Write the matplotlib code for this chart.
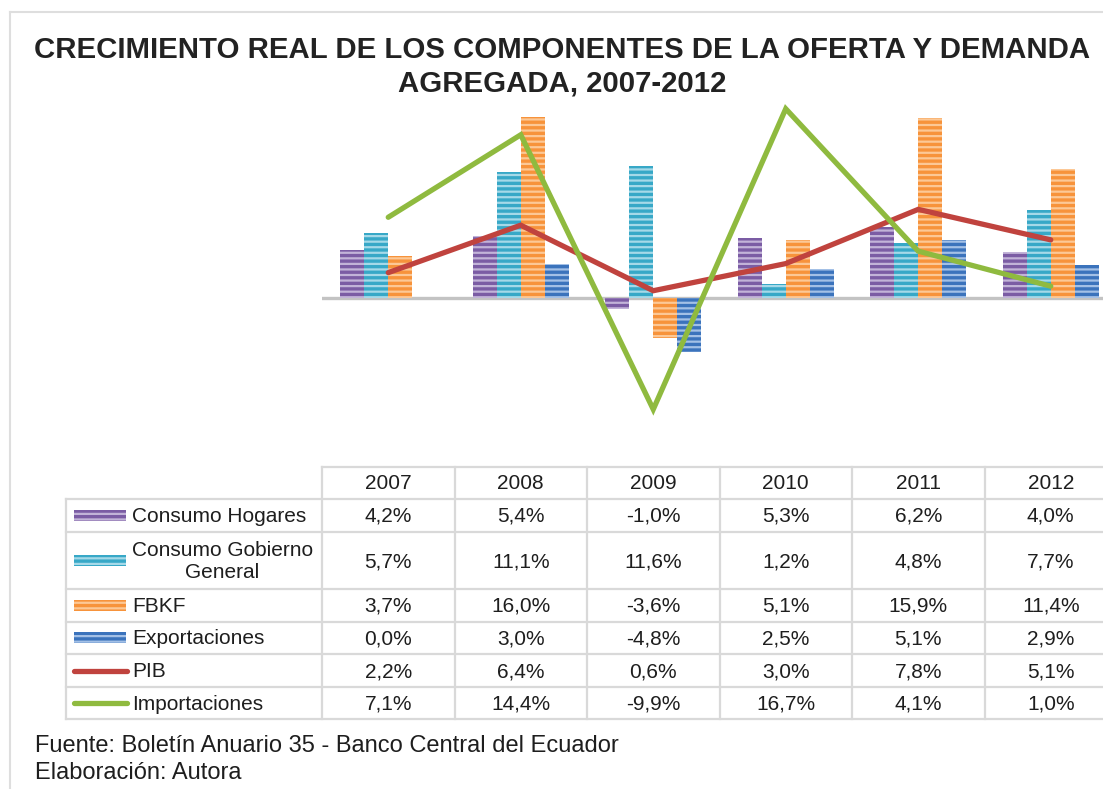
import numpy as np
import matplotlib
matplotlib.use("Agg")
import matplotlib.pyplot as plt
from matplotlib.patches import Rectangle

plt.rcParams['font.family'] = ['Liberation Sans', 'DejaVu Sans']
plt.rcParams['hatch.linewidth'] = 1.6

# data (% real growth)
years = ['2007', '2008', '2009', '2010', '2011', '2012']
consumo_hogares = [4.2, 5.4, -1.0, 5.3, 6.2, 4.0]
consumo_gobierno = [5.7, 11.1, 11.6, 1.2, 4.8, 7.7]
fbkf = [3.7, 16.0, -3.6, 5.1, 15.9, 11.4]
exportaciones = [0.0, 3.0, -4.8, 2.5, 5.1, 2.9]
pib = [2.2, 6.4, 0.6, 3.0, 7.8, 5.1]
importaciones = [7.1, 14.4, -9.9, 16.7, 4.1, 1.0]

bar_names = ['Consumo Hogares', 'Consumo Gobierno\nGeneral', 'FBKF', 'Exportaciones']
bar_series = [consumo_hogares, consumo_gobierno, fbkf, exportaciones]
bar_colors = ['#7b5ca4', '#37a8c7', '#f7933b', '#3b73bc']
stripe_colors = ['#c2b3d8', '#a5d9e8', '#fcc896', '#a3c0e6']
line_names = ['PIB', 'Importaciones']
line_series = [pib, importaciones]
line_colors = ['#c0433e', '#8fba3f']

W, H = 1103, 789
fig = plt.figure(figsize=(W / 100, H / 100), dpi=100)

# overlay in pixel coordinates for frame, title, table
ov = fig.add_axes([0, 0, 1, 1], zorder=0)
ov.set_xlim(0, W)
ov.set_ylim(H, 0)
ov.axis('off')

grid_c = '#d9d9d9'
ov.plot([10, W], [12, 12], color='#dedede', lw=1.5)
ov.plot([10, 10], [12, H], color='#dedede', lw=1.5)

ov.text(562, 50, 'CRECIMIENTO REAL DE LOS COMPONENTES DE LA OFERTA Y DEMANDA',
        ha='center', va='center', fontsize=21.2, fontweight='bold', color='#222222')
ov.text(562, 83, 'AGREGADA, 2007-2012', ha='center', va='center',
        fontsize=21.2, fontweight='bold', color='#222222')

# chart axes
px_per = 11.3
zero_y = 297.5
top_px, bot_px = 95, 465
left_px = 322
col_w = 132.5
ax = fig.add_axes([left_px / W, 1 - bot_px / H, (W - left_px) / W, (bot_px - top_px) / H], zorder=2)
ax.set_xlim(-0.5, -0.5 + (W - left_px) / col_w)
ax.set_ylim(-(bot_px - zero_y) / px_per, (zero_y - top_px) / px_per)
ax.axis('off')

x = np.arange(len(years))
bw = 0.182
ax.axhline(0, color='#c3c3c3', lw=2.4, zorder=1)
for i, (vals, c, sc) in enumerate(zip(bar_series, bar_colors, stripe_colors)):
    ax.bar(x + (i - 1.5) * bw, vals, width=bw, color=c, edgecolor=sc,
           linewidth=0, hatch='---', zorder=2)
for vals, c in zip(line_series, line_colors):
    ax.plot(x, vals, color=c, lw=3.8, solid_capstyle='round',
            solid_joinstyle='miter', zorder=3)

# table
col_edges = [left_px + k * col_w for k in range(len(years))]
row_edges = [499, 532, 589, 622, 654, 687, 719]
lw_g = 1.6
ov.plot([left_px, W], [467, 467], color=grid_c, lw=lw_g)
for xe in col_edges:
    ov.plot([xe, xe], [467, 719], color=grid_c, lw=lw_g)
ov.plot([66, 66], [499, 719], color=grid_c, lw=lw_g)
for ye in row_edges:
    ov.plot([66, W], [ye, ye], color=grid_c, lw=lw_g)

txt_c = '#1e1e1e'
fs = 15
for k, yr in enumerate(years):
    ov.text(left_px + (k + 0.5) * col_w, 483, yr, ha='center', va='center',
            fontsize=fs, color=txt_c)

all_names = bar_names + line_names
all_series = bar_series + line_series
for r, (name, vals) in enumerate(zip(all_names, all_series)):
    yc = (row_edges[r] + row_edges[r + 1]) / 2
    if r < 4:
        ov.add_patch(Rectangle((74, yc - 6), 52, 11, facecolor=bar_colors[r],
                               edgecolor=stripe_colors[r], linewidth=0, hatch='---'))
    else:
        ov.plot([74, 127], [yc, yc], color=line_colors[r - 4], lw=3.8,
                solid_capstyle='round')
    ov.text(132, yc + 1, name, ha='left', va='center', fontsize=fs,
            color=txt_c, multialignment='center', linespacing=1.15)
    for k, v in enumerate(vals):
        s = f'{v:.1f}%'.replace('.', ',')
        ov.text(left_px + (k + 0.5) * col_w, yc + 1, s, ha='center',
                va='center', fontsize=fs, color=txt_c)

ov.text(35, 746, 'Fuente: Boletín Anuario 35 - Banco Central del Ecuador',
        ha='left', va='center', fontsize=17, color=txt_c)
ov.text(35, 773, 'Elaboración: Autora', ha='left', va='center',
        fontsize=17, color=txt_c)

fig.savefig('out.png', dpi=100)
